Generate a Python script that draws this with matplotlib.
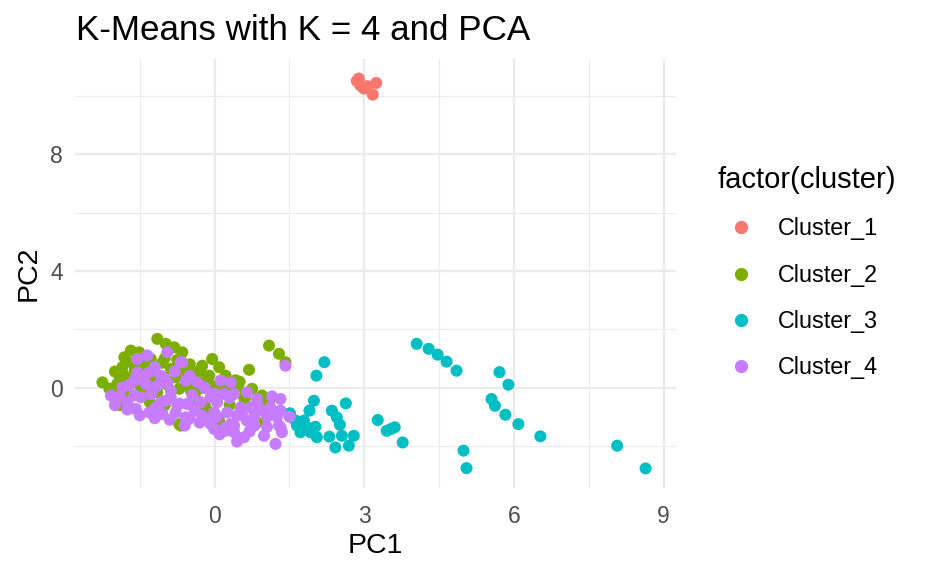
import matplotlib
matplotlib.use("Agg")
import matplotlib.pyplot as plt
from matplotlib.lines import Line2D

plt.rcParams['font.family'] = ['Liberation Sans', 'DejaVu Sans']

# cluster colours (ggplot hue palette)
colors = ['#F8766D', '#7CAE00', '#00BFC4', '#C77CFF']
labels = ['Cluster_1', 'Cluster_2', 'Cluster_3', 'Cluster_4']

# PCA scores
c1_x = [2.85, 2.89, 2.92, 2.99, 3.06, 3.24, 3.17]
c1_y = [10.51, 10.59, 10.36, 10.25, 10.33, 10.44, 10.04]

c2_x = [-1.15, -0.98, -0.81, -0.65, -1.68, -1.51, -1.81, -1.85, -1.81, -2.25,
        -2.11, -1.95, -1.85, -1.81, -1.48, -1.28, -0.88, -0.78, -0.61, -0.71,
        -1.15, -0.55, -0.71, 1.09, 1.29, 1.42, -0.25, -0.05, 0.09, -0.11,
        0.22, 0.69, 0.39, -0.55, -0.48, -0.31, 0.75, 0.95, 1.09, 0.55,
        -0.68, 0.09, 0.99, -0.18, -1.65, -1.49, -1.35, -1.05, -0.42, 0.42,
        -2.0, -1.7, -1.4, -1.2, -0.95, -0.35, 0.0, 0.3, 0.6, 0.85,
        -2.0, -1.9, -1.6, -1.4, -1.0, -0.75, -0.5, -0.3, -0.15, 0.15,
        0.5, 0.6, -1.7, -1.3, -0.4, -0.2, 0.3, 1.0, -1.0, -1.9]
c2_y = [1.67, 1.50, 1.38, 1.21, 1.27, 1.21, 1.04, 0.70, 0.41, 0.18,
        -0.04, 0.13, -0.16, -0.45, 0.01, 0.98, 0.64, 0.35, 0.64, -0.04,
        -0.16, 0.18, -1.25, 1.44, 1.16, 0.87, 0.75, 0.98, 0.70, 0.41,
        0.41, 0.61, 0.13, 0.41, -0.10, -0.04, -0.04, -0.27, -0.50, -0.16,
        -1.30, -1.13, -1.19, -0.68, 0.85, 0.65, 0.45, 0.85, 0.55, 0.25,
        0.55, 0.25, -0.05, 0.25, 0.10, 0.30, 0.05, -0.05, -0.35, -0.55,
        0.0, 0.35, 0.6, 0.8, 1.0, 0.95, 0.8, 0.55, 0.2, 0.0,
        0.2, -0.4, -0.3, -0.5, -0.3, -0.9, -0.6, -0.8, -0.6, -0.6]

c3_x = [4.05, 4.29, 4.47, 4.65, 4.85, 5.71, 5.89, 5.55, 5.62, 5.83,
        6.09, 6.53, 3.27, 3.45, 3.53, 3.61, 3.77, 4.99, 5.05, 8.07,
        8.64, 2.20, 2.04, 1.99, 2.63, 1.90, 2.35, 1.51, 2.45, 1.62,
        1.79, 2.51, 2.02, 1.72, 2.55, 2.79, 2.30, 2.05, 2.42, 2.69,
        1.65, 1.85, 1.92]
c3_y = [1.50, 1.33, 1.13, 0.89, 0.58, 0.53, 0.10, -0.39, -0.62, -0.93,
        -1.25, -1.67, -1.11, -1.48, -1.42, -1.36, -1.88, -2.16, -2.76, -1.99,
        -2.77, 0.87, 0.41, -0.45, -0.54, -0.79, -0.79, -0.88, -1.02, -1.13,
        -1.13, -1.27, -1.34, -1.53, -1.65, -1.65, -1.68, -1.70, -2.05, -1.99,
        -1.30, -1.36, -1.53]

c4_x = [-0.95, -0.68, -1.55, -1.35, -1.55, -1.31, -1.08, -1.61, -1.38, -1.15,
        -0.95, -2.08, -1.85, -1.75, -1.61, -1.48, -1.28, -1.08, -0.88, -1.58,
        -1.31, -1.05, -0.78, -0.58, -1.18, -0.88, -0.65, 1.42, 0.12, 0.32,
        -0.58, -0.35, 0.19, 0.39, 0.65, 0.85, -0.08, -0.28, -0.55, 1.32,
        1.12, 1.32, 0.92, 0.72, 0.52, 0.25, -0.01, -0.25, -0.51, -0.08,
        0.32, 0.65, 0.22, 0.39, 0.59, 0.99, 1.29, 1.22, 1.32, 1.35,
        -0.15, -0.01, 0.22, 0.39, -0.98, -0.45, -0.2, 0.05, -1.25, -0.75,
        -0.4, -1.0, 0.45, 0.8, 1.05,
        -2.0, -1.9, -1.7, -1.45, -1.2, -0.8, -0.5, -0.2, 0.0, 0.3,
        0.55, 0.8, 1.05, 1.25, 0.7, 0.1, -0.3, -0.6, -0.9, -1.2,
        -1.5, -1.75, 0.45, 0.05, -0.4, -0.7, 1.5, 1.15]
c4_y = [1.21, 0.87, 0.98, 1.10, 0.52, 0.52, 0.41, 0.24, 0.13, 0.07,
        0.18, -0.27, 0.01, -0.50, -0.27, -0.33, -0.22, -0.50, -0.33, -0.73,
        -0.85, -0.90, -0.85, -1.02, -0.68, -0.10, 0.87, 0.75, 0.24, 0.18,
        0.24, 0.18, -0.22, -0.22, -0.16, -0.39, -0.33, -0.50, -0.56, -0.39,
        -0.68, -0.79, -0.73, -0.68, -0.68, -0.85, -0.85, -0.96, -1.07, -1.25,
        -1.25, -1.13, -1.48, -1.53, -1.70, -1.65, -1.30, -1.93, -1.36, -1.53,
        -1.13, -1.42, -1.36, -1.30, -0.45, -0.25, 0.0, -0.5, -0.1, -0.6,
        -0.8, 0.3, -0.95, -0.95, -1.0,
        -0.6, -0.3, 0.1, 0.3, 0.7, 0.55, 0.4, 0.0, -0.2, -0.35,
        -0.95, -1.3, -1.35, -1.0, -1.5, -1.6, -1.2, -1.3, -1.1, -1.05,
        -0.95, -0.75, -1.85, -1.0, -0.7, -0.55, -1.0, -0.3]

xs = [c1_x, c2_x, c3_x, c4_x]
ys = [c1_y, c2_y, c3_y, c4_y]

fig = plt.figure(figsize=(9.26, 5.72), dpi=100)
ax = fig.add_axes([75 / 926, 1 - 488 / 572, (676 - 75) / 926, (488 - 59) / 572])

grid_col = '#EBEBEB'
for v in [-1.5, 1.5, 4.5, 7.5]:
    ax.axvline(v, color=grid_col, lw=0.8, zorder=0)
for v in [-2, 2, 6, 10]:
    ax.axhline(v, color=grid_col, lw=0.8, zorder=0)
for v in [0, 3, 6, 9]:
    ax.axvline(v, color=grid_col, lw=1.7, zorder=0)
for v in [0, 4, 8]:
    ax.axhline(v, color=grid_col, lw=1.7, zorder=0)

for x, y, c in zip(xs, ys, colors):
    ax.scatter(x, y, s=75, color=c, edgecolors='none', zorder=2)

ax.set_xlim(-2.8, 9.25)
ax.set_ylim(-3.44, 11.26)
ax.set_xticks([0, 3, 6, 9])
ax.set_yticks([0, 4, 8])
ax.tick_params(length=0, labelsize=16.5, labelcolor='#4D4D4D')
ax.tick_params(axis='x', pad=12)
ax.tick_params(axis='y', pad=8.5)
for s in ax.spines.values():
    s.set_visible(False)

ax.set_xlabel('PC1', fontsize=20.5, labelpad=4)
ax.set_ylabel('PC2', fontsize=20.5, labelpad=6)
fig.text(76 / 926, 1 - 31 / 572, 'K-Means with K = 4 and PCA', fontsize=25.2, va='center', ha='left')

handles = [Line2D([], [], marker='o', ls='', color=c, markersize=8.5) for c in colors]
leg = ax.legend(handles, labels, title='factor(cluster)', loc='upper left',
                bbox_to_anchor=(718 / 926, 1 - 166 / 572), bbox_transform=fig.transFigure,
                frameon=False, fontsize=16.8, title_fontsize=21, labelspacing=1.0,
                handletextpad=0.55, borderpad=0, borderaxespad=0, alignment='left')

fig.savefig('out.png', dpi=100)
